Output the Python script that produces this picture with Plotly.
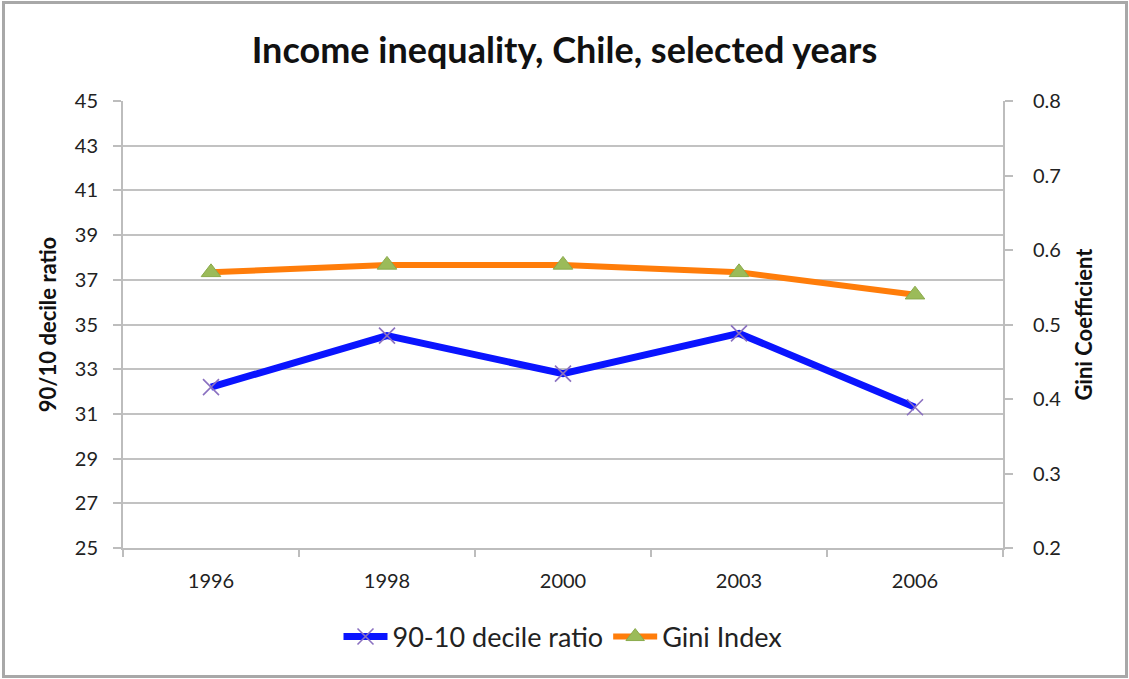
import plotly.graph_objects as go

# Survey years and inequality measures
years = ["1996", "1998", "2000", "2003", "2006"]
decile_ratio = [32.2, 34.5, 32.8, 34.6, 31.3]
gini_index = [0.57, 0.58, 0.58, 0.57, 0.54]

left_ticks = [25, 27, 29, 31, 33, 35, 37, 39, 41, 43, 45]
right_ticks = [0.2, 0.3, 0.4, 0.5, 0.6, 0.7, 0.8]

W, H = 1129, 679
ML, MR, MT, MB = 123, 126, 101, 131
PW, PH = W - ML - MR, H - MT - MB

FONT = "Lato, Open Sans, sans-serif"
GRID = "#c2c2c2"
AXIS = "#bdbdbd"

fig = go.Figure()

fig.add_trace(go.Scatter(
    x=years, y=decile_ratio, name="90-10 decile ratio",
    mode="lines+markers",
    line=dict(color="#0a14ff", width=7),
    marker=dict(symbol="x-thin", size=16, color="#8a70c0",
                line=dict(color="#8a70c0", width=1.6)),
    yaxis="y",
))
fig.add_trace(go.Scatter(
    x=years, y=gini_index, name="Gini Index",
    mode="lines+markers",
    line=dict(color="#ff7d0a", width=6),
    marker=dict(symbol="triangle-up", size=17, color="#9bbb59",
                line=dict(color="#8aaa4c", width=1)),
    yaxis="y2",
))

def px_to_paper_x(px):
    return (px - ML) / PW

def px_to_paper_y(py):
    return (H - MB - py) / PH

fig.update_layout(
    width=W, height=H,
    margin=dict(l=ML, r=MR, t=MT, b=MB),
    paper_bgcolor="white", plot_bgcolor="white",
    font=dict(family=FONT, size=19, color="#222222"),
    title=dict(text="<b>Income inequality, Chile, selected years</b>",
               x=0.5, xanchor="center", y=1 - 50 / H, yanchor="middle",
               font=dict(family=FONT, size=36, color="#111111")),
    xaxis=dict(
        type="category", showgrid=False,
        showline=True, linecolor=AXIS, linewidth=2,
        ticks="outside", tickson="boundaries", ticklen=7,
        tickcolor=AXIS, tickwidth=2,
        tickfont=dict(size=20, color="#222222"),
        ticklabelstandoff=14,
        range=[-0.5, 4.5],
    ),
    yaxis=dict(
        range=[25, 45], tickvals=left_ticks,
        showgrid=True, gridcolor=GRID, gridwidth=2,
        showline=True, linecolor=AXIS, linewidth=2,
        ticks="outside", ticklen=8, tickcolor=AXIS, tickwidth=2,
        tickfont=dict(size=20, color="#222222"),
        ticklabelstandoff=11,
        zeroline=False,
        title=dict(text="<b>90/10 decile ratio</b>", standoff=12,
                   font=dict(size=22, color="#111111")),
    ),
    yaxis2=dict(
        range=[0.2, 0.8], tickvals=right_ticks, tickformat=".1f",
        overlaying="y", side="right",
        showgrid=False,
        showline=True, linecolor=AXIS, linewidth=2,
        ticks="outside", ticklen=8, tickcolor=AXIS, tickwidth=2,
        tickfont=dict(size=20, color="#222222"),
        ticklabelstandoff=16,
        zeroline=False,
        title=dict(text="<b>Gini Coefficient</b>", standoff=16,
                   font=dict(size=22, color="#111111")),
    ),
    legend=dict(
        orientation="h", x=0.5, xanchor="center",
        y=px_to_paper_y(637), yanchor="middle",
        font=dict(size=27, color="#222222"),
        itemwidth=44, tracegroupgap=0,
        bgcolor="rgba(0,0,0,0)",
    ),
    showlegend=True,
)

# Outer chart frame
fig.add_shape(
    type="rect", xref="paper", yref="paper",
    x0=px_to_paper_x(3.5), x1=px_to_paper_x(1126.5),
    y0=px_to_paper_y(676.5), y1=px_to_paper_y(2.5),
    line=dict(color="#a8a8a8", width=3), fillcolor="rgba(0,0,0,0)",
    layer="below",
)

fig.write_html("out.html")
